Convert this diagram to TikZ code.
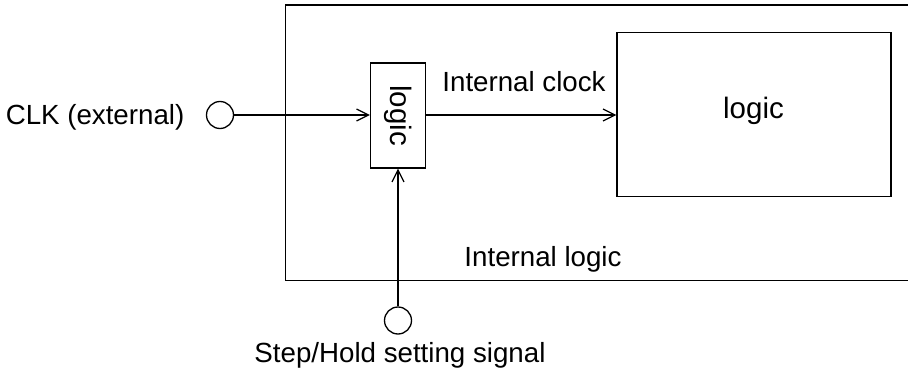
\documentclass[tikz,border=0pt]{standalone}
\usepackage{fontspec}
\setmainfont{Liberation Sans}
\usetikzlibrary{arrows.meta}
\begin{document}
\begin{tikzpicture}[x=1pt,y=-1pt,line width=1.3pt,
  lbl/.style={font=\fontsize{27.7}{32}\selectfont,inner sep=0pt},
  big/.style={font=\fontsize{29.5}{34}\selectfont,inner sep=0pt},
  port/.style={circle,draw,minimum size=27pt,inner sep=0pt},
  box/.style={draw,inner sep=0pt},
  arr/.style={-{Straight Barb[length=12pt,width=12pt,line width=1.2pt]}}]
\useasboundingbox (0,0) rectangle (908,380);
% outer frame (right side runs off the picture)
\draw (908,5) -- (285.5,5) -- (285.5,280.5) -- (908,280.5);
% blocks
\node[box,minimum width=55pt,minimum height=105pt] (gate) at (398,115.5) {};
\node[big,rotate=-90] (gatetxt) at (gate.center) {logic};
\node[box,minimum width=274pt,minimum height=164pt] (core) at (754,114.6) {};
\node[big,anchor=base] (coretxt) at (753.5,118.3) {logic};
% ports
\node[port] (clk) at (220,115) {};
\node[port] (step) at (398,320.5) {};
% labels
\node[lbl,anchor=base east] (clklbl) at (185,124) {CLK (external)};
\node[lbl,anchor=base] (iclk) at (524,91) {Internal clock};
\node[lbl,anchor=base] (ilog) at (543,266) {Internal logic};
\node[lbl,anchor=base] (steplbl) at (400,362) {Step/Hold setting signal};
% connectors
\draw[arr] (clk.east) -- (clk.east -| gate.west);
\draw[arr] (clk.east -| gate.east) -- (clk.east -| core.west);
\draw[arr] (step.north) -- (gate.south);
\end{tikzpicture}
\end{document}
